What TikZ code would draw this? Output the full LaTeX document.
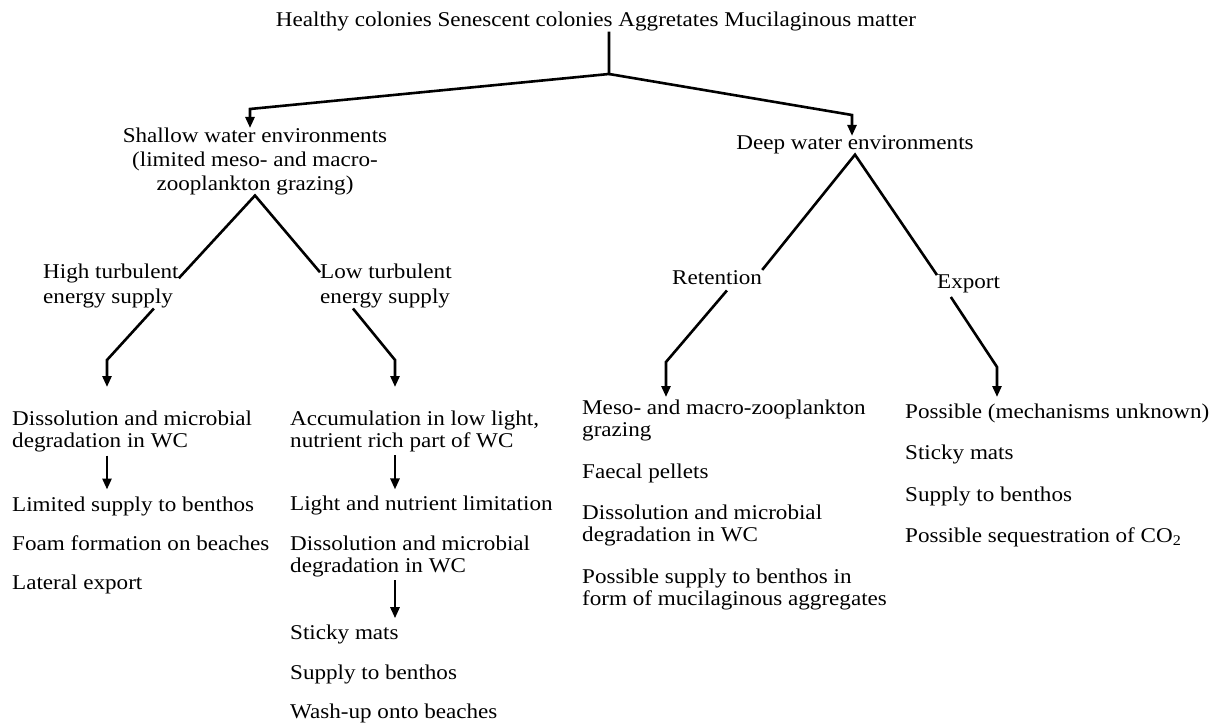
\documentclass[tikz,border=0pt]{standalone}
\usepackage{fontspec}
\setmainfont{Liberation Serif}[FakeStretch=1.1]
\usepackage{tikz}
\usetikzlibrary{arrows.meta,positioning,calc}

\begin{document}
\begin{tikzpicture}[x=1pt, y=-1pt, node distance=20pt,
  every node/.style={font=\fontsize{21}{22}\selectfont, inner sep=0pt},
  entry/.style={anchor=north west, align=left},
  oneline/.style={entry, text height=14.3pt, text depth=4.6pt},
  lnk/.style={line width=2.6pt, line join=miter},
  arr/.style={lnk, -{Triangle[length=11pt, width=9pt]}}]
\useasboundingbox (0,0) rectangle (1223,727);
% heading and the two environments
\node[anchor=base] (top) at (596,27) {Healthy colonies Senescent colonies Aggretates Mucilaginous matter};
\node[anchor=north, align=center, font=\fontsize{21}{24}\selectfont] (shallow) at (255,128) {Shallow water environments\\(limited meso- and macro-\\zooplankton grazing)};
\node[anchor=base] (deep) at (855,150) {Deep water environments};
\coordinate (jtop) at (609,74);
\coordinate (kshallow) at (250,109);
\coordinate (kdeep) at (852,115);
\draw[arr] (top.south -| jtop) -- (jtop) -- (kshallow) -- (kshallow |- shallow.north);
\draw[arr] (jtop) -- (kdeep) -- (kdeep |- deep.north);
% shallow water
\node[entry, font=\fontsize{21}{25}\selectfont] (high) at (43,264) {High turbulent\\energy supply};
\node[entry, font=\fontsize{21}{25}\selectfont] (low) at (320,264) {Low turbulent\\energy supply};
\draw[lnk] ([yshift=8pt]high.east) -- (shallow.south) -- ([yshift=14pt]low.west);
\coordinate (khigh) at (107,360);
\coordinate (klow) at (395,360);
\node[entry] (c1a) at (12,411) {Dissolution and microbial\\degradation in WC};
\node[below=44pt of c1a.south west, oneline] (c1b) {Limited supply to benthos};
\node[below=of c1b.south west, oneline] (c1c) {Foam formation on beaches};
\node[below=of c1c.south west, oneline] (c1d) {Lateral export};
\node[entry] (c2a) at (290,411) {Accumulation in low light,\\nutrient rich part of WC};
\node[below=44pt of c2a.south west, oneline] (c2b) {Light and nutrient limitation};
\node[below=of c2b.south west, entry] (c2c) {Dissolution and microbial\\degradation in WC};
\node[below=48pt of c2c.south west, oneline] (c2d) {Sticky mats};
\node[below=of c2d.south west, oneline] (c2e) {Supply to benthos};
\node[below=of c2e.south west, oneline] (c2f) {Wash-up onto beaches};
\draw[arr, shorten >=24pt] ([xshift=43pt]high.south) -- (khigh) -- (khigh |- c1a.north);
\draw[arr, shorten >=24pt] ([xshift=-33pt]low.south) -- (klow) -- (klow |- c2a.north);
\draw[arr, shorten <=3pt, shorten >=7pt] (khigh |- c1a.south) -- (khigh |- c1b.north);
\draw[arr, shorten <=3pt, shorten >=7pt] (klow |- c2a.south) -- (klow |- c2b.north);
\draw[arr, shorten <=3pt, shorten >=7pt] (klow |- c2c.south) -- (klow |- c2d.north);
% deep water
\node[anchor=base west] (ret) at (672,284) {Retention};
\node[anchor=base west] (exp) at (937,289) {Export};
\draw[lnk] (ret.north east) -- (deep.south) -- (exp.north west);
\coordinate (kret) at (666,362);
\coordinate (kexp) at (997,367);
\node[entry] (c3a) at (582,400) {Meso- and macro-zooplankton\\grazing};
\node[below=22pt of c3a.south west, oneline] (c3b) {Faecal pellets};
\node[below=22pt of c3b.south west, entry] (c3c) {Dissolution and microbial\\degradation in WC};
\node[below=22pt of c3c.south west, entry] (c3d) {Possible supply to benthos in\\form of mucilaginous aggregates};
\node[oneline] (c4a) at (905,404) {Possible (mechanisms unknown)};
\node[below=22pt of c4a.south west, oneline] (c4b) {Sticky mats};
\node[below=22pt of c4b.south west, oneline] (c4c) {Supply to benthos};
\node[below=22pt of c4c.south west, oneline] (c4d) {Possible sequestration of CO\textsubscript{2}};
\draw[arr, shorten <=8pt, shorten >=3pt] ([xshift=15pt]ret.south) -- (kret) -- (kret |- c3a.north);
\draw[arr, shorten <=4pt, shorten >=7pt] ([xshift=-20pt]exp.south) -- (kexp) -- (kexp |- c4a.north);
\end{tikzpicture}
\end{document}
